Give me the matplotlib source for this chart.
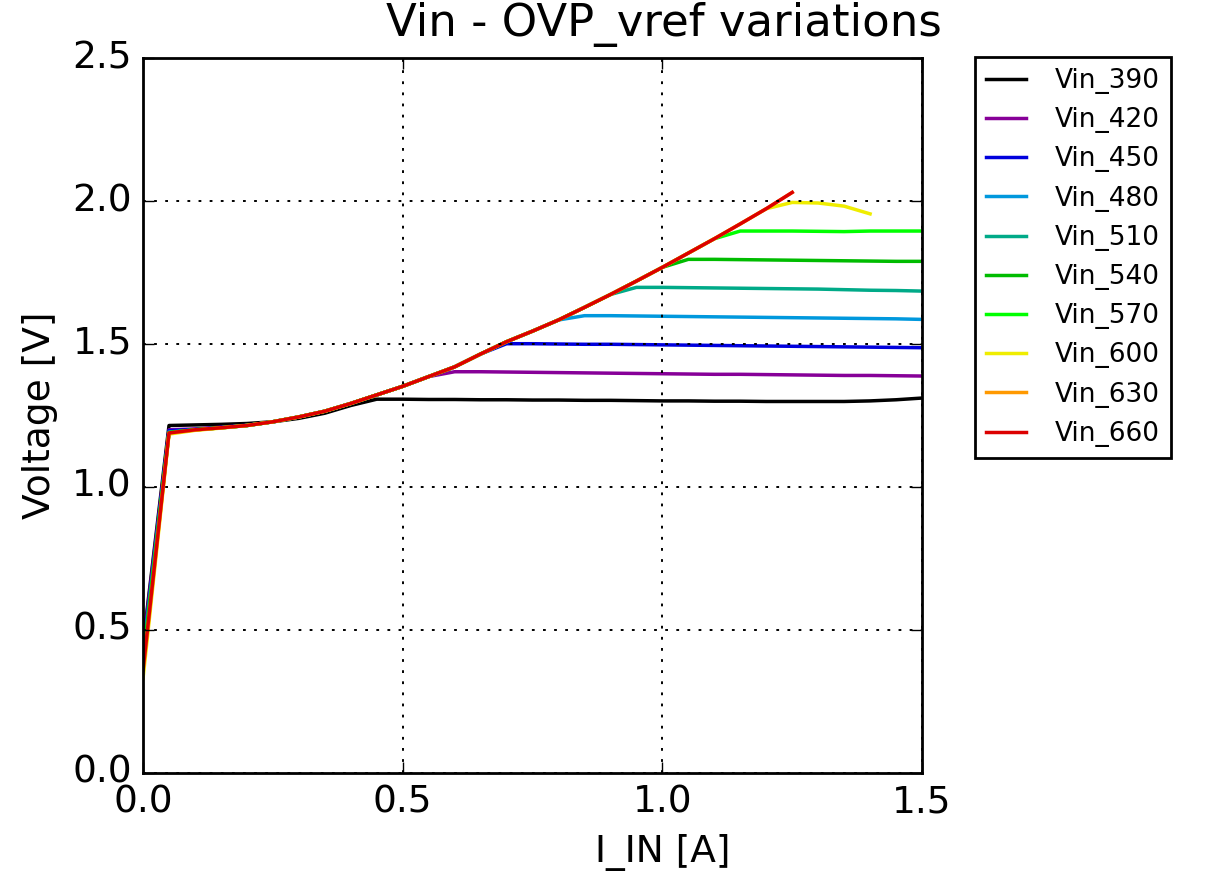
import numpy as np
import matplotlib
matplotlib.use('Agg')
import matplotlib.pyplot as plt

# input current sweep [A]
i_in = [0.00, 0.05, 0.10, 0.15, 0.20, 0.25, 0.30, 0.35, 0.40, 0.45,
        0.50, 0.55, 0.60, 0.65, 0.70, 0.75, 0.80, 0.85, 0.90, 0.95,
        1.00, 1.05, 1.10, 1.15, 1.20, 1.25, 1.30, 1.35, 1.40, 1.45, 1.50]

labels = ['Vin_390', 'Vin_420', 'Vin_450', 'Vin_480', 'Vin_510',
          'Vin_540', 'Vin_570', 'Vin_600', 'Vin_630', 'Vin_660']

# measured OVP_vref [V] per input voltage
v_390 = [0.45, 1.215, 1.217, 1.219, 1.222, 1.228, 1.240, 1.258, 1.285, 1.307,
         1.307, 1.306, 1.306, 1.305, 1.305, 1.304, 1.304, 1.303, 1.303, 1.302,
         1.301, 1.301, 1.300, 1.300, 1.299, 1.299, 1.299, 1.299, 1.301, 1.305, 1.311]
v_420 = [0.44, 1.200, 1.203, 1.209, 1.216, 1.228, 1.245, 1.265, 1.292, 1.322,
         1.352, 1.386, 1.403, 1.403, 1.402, 1.401, 1.400, 1.399, 1.398, 1.397,
         1.396, 1.395, 1.394, 1.394, 1.393, 1.392, 1.391, 1.390, 1.390, 1.389, 1.388]
v_450 = [0.42, 1.197, 1.201, 1.208, 1.215, 1.228, 1.245, 1.265, 1.292, 1.322,
         1.352, 1.386, 1.420, 1.465, 1.501, 1.501, 1.500, 1.499, 1.499, 1.498,
         1.497, 1.496, 1.495, 1.494, 1.493, 1.492, 1.491, 1.490, 1.489, 1.488, 1.487]
v_480 = [0.41, 1.192, 1.200, 1.207, 1.215, 1.228, 1.245, 1.265, 1.292, 1.322,
         1.352, 1.386, 1.420, 1.465, 1.508, 1.545, 1.584, 1.599, 1.599, 1.598,
         1.597, 1.596, 1.595, 1.594, 1.593, 1.592, 1.591, 1.590, 1.589, 1.588, 1.586]
v_510 = [0.40, 1.190, 1.200, 1.207, 1.215, 1.228, 1.245, 1.265, 1.292, 1.322,
         1.352, 1.386, 1.420, 1.465, 1.508, 1.545, 1.584, 1.628, 1.673, 1.698,
         1.698, 1.697, 1.696, 1.695, 1.694, 1.693, 1.692, 1.690, 1.688, 1.687, 1.685]
v_540 = [0.39, 1.190, 1.200, 1.207, 1.215, 1.228, 1.245, 1.265, 1.292, 1.322,
         1.352, 1.386, 1.420, 1.465, 1.508, 1.545, 1.584, 1.628, 1.673, 1.720,
         1.768, 1.796, 1.796, 1.795, 1.794, 1.793, 1.792, 1.791, 1.790, 1.789, 1.789]
v_570 = [0.38, 1.190, 1.200, 1.207, 1.215, 1.228, 1.245, 1.265, 1.292, 1.322,
         1.352, 1.386, 1.420, 1.465, 1.508, 1.545, 1.584, 1.628, 1.673, 1.720,
         1.768, 1.818, 1.868, 1.895, 1.895, 1.895, 1.894, 1.893, 1.895, 1.895, 1.895]
v_600 = [0.33, 1.185, 1.198, 1.206, 1.215, 1.228, 1.245, 1.265, 1.292, 1.322,
         1.352, 1.386, 1.420, 1.465, 1.508, 1.545, 1.584, 1.628, 1.673, 1.720,
         1.768, 1.818, 1.868, 1.920, 1.973, 1.995, 1.993, 1.982, 1.955]
v_630 = [0.35, 1.188, 1.199, 1.207, 1.215, 1.228, 1.245, 1.265, 1.292, 1.322,
         1.352, 1.386, 1.420, 1.465, 1.508, 1.545, 1.584, 1.628, 1.673, 1.720,
         1.768, 1.818, 1.868, 1.920, 1.973, 2.030]
v_660 = [0.36, 1.189, 1.200, 1.207, 1.215, 1.228, 1.245, 1.265, 1.292, 1.322,
         1.352, 1.386, 1.420, 1.465, 1.508, 1.545, 1.584, 1.628, 1.673, 1.720,
         1.768, 1.818, 1.868, 1.920, 1.973, 2.030]

series = [v_390, v_420, v_450, v_480, v_510, v_540, v_570, v_600, v_630, v_660]

plt.style.use('classic')
plt.rcParams['font.size'] = 13.5

fig = plt.figure(figsize=(6.035, 4.375), dpi=200, facecolor='white')
ax = fig.add_axes([0.1185, 0.1166, 0.7639 - 0.1185, 0.9337 - 0.1166])

cmap = plt.get_cmap('nipy_spectral')
for n, (v, lab) in enumerate(zip(series, labels)):
    ax.plot(i_in[:len(v)], v, color=cmap(n / 10.0), linewidth=1.25, label=lab)

ax.set_xlim(0, 1.5)
ax.set_ylim(0, 2.5)
ax.set_xticks([0.0, 0.5, 1.0, 1.5])
ax.set_yticks([0.0, 0.5, 1.0, 1.5, 2.0, 2.5])
ax.grid(True, color='k', linestyle=':', linewidth=0.7)

ax.set_xlabel('I_IN [A]', x=0.667, ha='center')
ax.set_ylabel('Voltage [V]')
ax.set_title('Vin - OVP_vref variations', x=0.669, pad=8)

ax.legend(loc='upper left', bbox_to_anchor=(1.068, 1.0014), borderaxespad=0,
          fontsize=9.5, handlelength=1.5, handletextpad=1.1, borderpad=0.42,
          numpoints=1)

fig.savefig('out.png', dpi=200, facecolor='white')
